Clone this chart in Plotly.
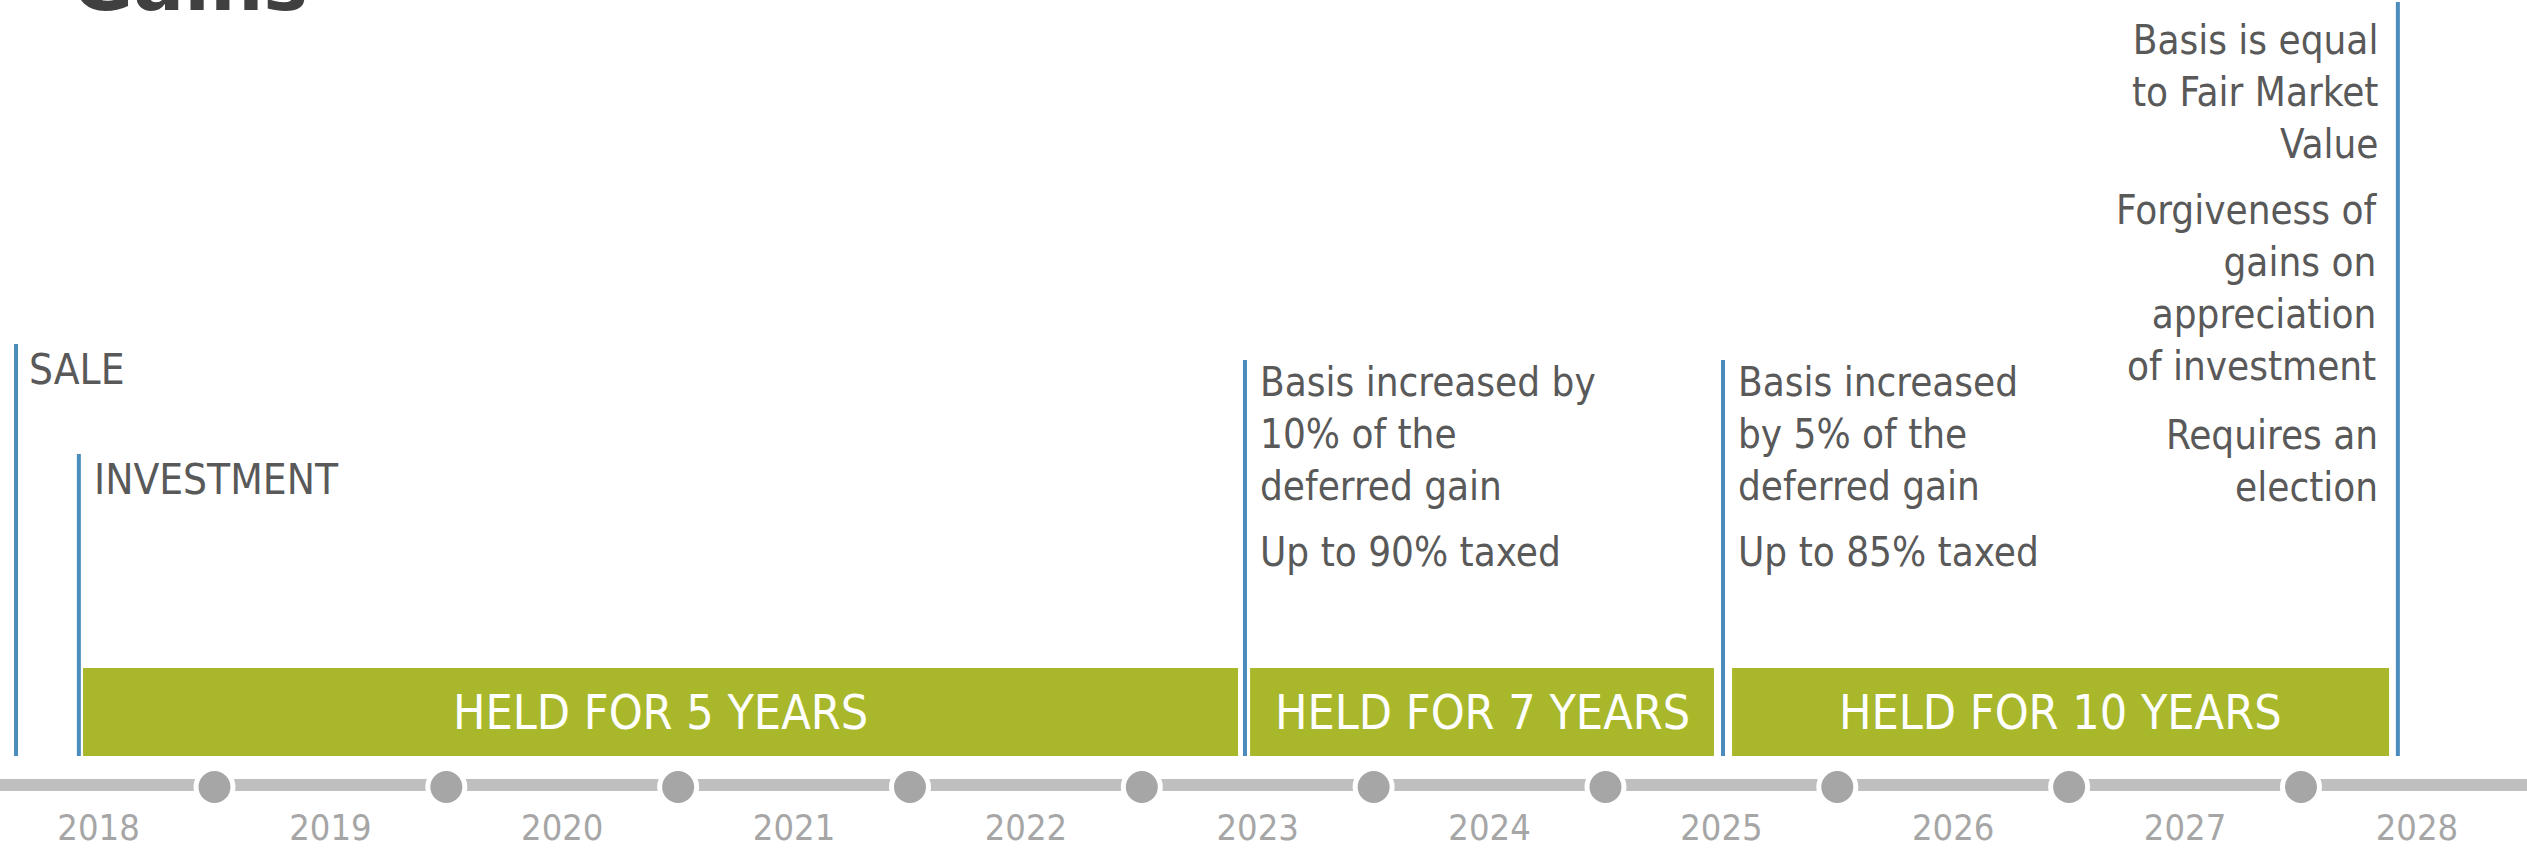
import plotly.graph_objects as go

# ---------------- data ----------------
years = [2018, 2019, 2020, 2021, 2022, 2023, 2024, 2025, 2026, 2027, 2028]
dot_years = [2018.5, 2019.5, 2020.5, 2021.5, 2022.5, 2023.5, 2024.5, 2025.5, 2026.5, 2027.5, 2028.5]

event_x = [2017.644, 2017.915, 2022.945, 2025.007, 2027.918]
event_labels = ["SALE", "INVESTMENT", "", "", ""]

bar_start = [2017.933, 2022.967, 2025.046]
bar_end = [2022.915, 2024.968, 2027.880]
bar_labels = ["HELD FOR 5 YEARS", "HELD FOR 7 YEARS", "HELD FOR 10 YEARS"]

notes_2023 = ["Basis increased by<br>10% of the<br>deferred gain", "Up to 90% taxed"]
notes_2025 = ["Basis increased<br>by 5% of the<br>deferred gain", "Up to 85% taxed"]
notes_2028 = ["Basis is equal<br>to Fair Market<br>Value",
              "Forgiveness of<br>gains on<br>appreciation<br>of investment",
              "Requires an<br>election"]

title_text = "Gains"

# ---------------- style ----------------
FONT = "DejaVu Sans Condensed, Liberation Sans Narrow, DejaVu Sans, sans-serif"
TEXT_C = "#595959"
LINE_C = "#4A8CBB"
GREEN = "#A8B82A"
TL_C = "#BFBFBF"
DOT_C = "#A6A6A6"
W, H = 2527, 851
X0, X1 = 2017.5748, 2028.4750

fig = go.Figure()

# timeline bar
fig.add_shape(type="line", x0=X0, x1=X1, y0=785, y1=785, xref="x", yref="y",
              line=dict(color=TL_C, width=12), layer="below")

# timeline dots
fig.add_trace(go.Scatter(x=dot_years, y=[787] * len(dot_years), mode="markers",
                         marker=dict(size=37, color=DOT_C, line=dict(color="white", width=5)),
                         hoverinfo="skip", showlegend=False, cliponaxis=False))

# year labels
fig.add_trace(go.Scatter(x=years, y=[831] * len(years), mode="text", text=[str(y) for y in years],
                         textposition="middle center",
                         textfont=dict(family=FONT, size=36, color=DOT_C),
                         hoverinfo="skip", showlegend=False, cliponaxis=False))

# green bars
for s, e, lab in zip(bar_start, bar_end, bar_labels):
    fig.add_shape(type="rect", x0=s, x1=e, y0=668, y1=756, xref="x", yref="y",
                  fillcolor=GREEN, line=dict(width=0), layer="below")
    fig.add_annotation(x=(s + e) / 2, y=712, text=lab, showarrow=False,
                       xanchor="center", yanchor="middle",
                       font=dict(family=FONT, size=48, color="white"))

# event lines
line_tops = [344, 454, 360, 360, 2]
for xv, top in zip(event_x, line_tops):
    fig.add_shape(type="line", x0=xv, x1=xv, y0=top, y1=756, xref="x", yref="y",
                  line=dict(color=LINE_C, width=4))


def note(x, baseline, text, size, xanchor="left", xshift=13, align="left"):
    fig.add_annotation(x=x, y=baseline - 0.928 * size - 2, text=text, showarrow=False,
                       xanchor=xanchor, yanchor="top", align=align, xshift=xshift,
                       font=dict(family=FONT, size=size, color=TEXT_C))


# event labels
note(event_x[0], 384, event_labels[0], 42, xshift=11)
note(event_x[1], 494, event_labels[1], 42, xshift=13)

# notes
note(event_x[2], 396, notes_2023[0], 40)
note(event_x[2], 566, notes_2023[1], 40)
note(event_x[3], 396, notes_2025[0], 40)
note(event_x[3], 566, notes_2025[1], 40)
note(event_x[4], 54, notes_2028[0], 40, xanchor="right", xshift=-18, align="right")
note(event_x[4], 224, notes_2028[1], 40, xanchor="right", xshift=-18, align="right")
note(event_x[4], 449, notes_2028[2], 40, xanchor="right", xshift=-18, align="right")

# title (cut off at the top)
fig.add_annotation(x=0, y=10 + 0.236 * 75 + 2, xref="paper", yref="y", text="<b>" + title_text + "</b>",
                   showarrow=False, xanchor="left", yanchor="bottom", xshift=70,
                   font=dict(family="DejaVu Sans, sans-serif", size=75, color="#404040"))

fig.update_layout(
    width=W, height=H, margin=dict(l=0, r=0, t=0, b=0),
    paper_bgcolor="white", plot_bgcolor="white", showlegend=False,
    xaxis=dict(range=[X0, X1], visible=False, fixedrange=True),
    yaxis=dict(range=[H, 0], visible=False, fixedrange=True),
)

fig.write_html("out.html", config={"displayModeBar": False},
               post_script="document.body.style.margin='0';")
